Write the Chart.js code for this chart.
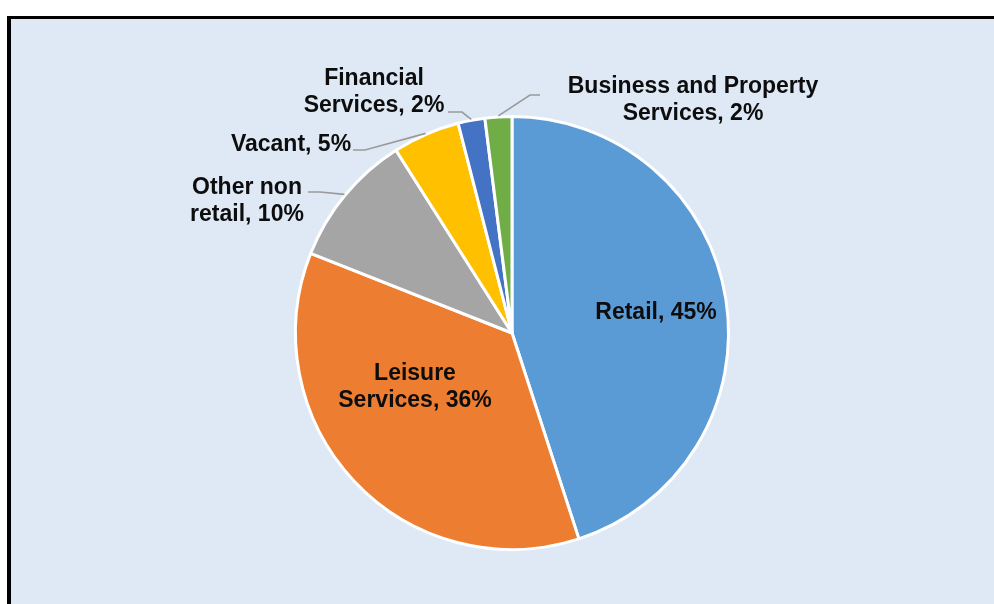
<!DOCTYPE html>
<html>
<head>
<meta charset="utf-8">
<script src="https://cdn.jsdelivr.net/npm/chart.js@4/dist/chart.umd.min.js"></script>
<style>
  html, body { margin: 0; padding: 0; background: #fff; overflow: hidden; }
  .frame {
    position: absolute; left: 7px; top: 16px; width: 1000px; height: 600px;
    border-top: 3px solid #000; border-left: 4px solid #000;
    background: #dee9f5;
  }
  #pie { position: absolute; left: 0; top: 0; }
</style>
</head>
<body>
<div class="frame"></div>
<canvas id="pie" width="994" height="604"></canvas>
<script>
// category names, already wrapped the way the labels show them
const categories = [
  ['Retail'],
  ['Leisure', 'Services'],
  ['Other non', 'retail'],
  ['Vacant'],
  ['Financial', 'Services'],
  ['Business and Property', 'Services']
]
const shares = [45, 36, 10, 5, 2, 2]
const colours = ['#5b9bd5', '#ed7d31', '#a5a5a5', '#ffc000', '#4472c4', '#70ad47']

// where each label sits, relative to the pie centre (first line centre),
// plus the point where its leader line leaves the text (null = inside the slice)
const labelPos = [
  { dx: 144, dy: -22, lead: null },
  { dx: -97, dy: 39, lead: null },
  { dx: -265, dy: -147, lead: { x: -204, y: -141, stub: 12 } },
  { dx: -221, dy: -190, lead: { x: -159, y: -183, stub: 12 } },
  { dx: -138, dy: -256, lead: { x: -64, y: -221, stub: 14 } },
  { dx: 181, dy: -248, lead: { x: 28, y: -238, stub: -10 } }
]

const sliceLabels = {
  id: 'sliceLabels',
  afterDatasetsDraw(chart) {
    const ctx = chart.ctx
    const arcs = chart.getDatasetMeta(0).data
    ctx.save()
    arcs.forEach(function (arc, i) {
      const cx = arc.x, cy = arc.y
      const p = labelPos[i]
      if (p.lead) {
        const mid = (arc.startAngle + arc.endAngle) / 2
        const ex = cx + Math.cos(mid) * (arc.outerRadius + 1)
        const ey = cy + Math.sin(mid) * (arc.outerRadius + 1)
        const sx = cx + p.lead.x, sy = cy + p.lead.y
        ctx.strokeStyle = '#9a9a9a'
        ctx.lineWidth = 1.6
        ctx.beginPath()
        ctx.moveTo(sx, sy)
        ctx.lineTo(sx + p.lead.stub, sy)
        ctx.lineTo(ex, ey)
        ctx.stroke()
      }
      const lines = categories[i].slice()
      lines[lines.length - 1] += ', ' + shares[i] + '%'
      ctx.fillStyle = '#0d0d0d'
      ctx.font = 'bold 23px "Liberation Sans", Arial, sans-serif'
      ctx.textAlign = 'center'
      ctx.textBaseline = 'alphabetic'
      lines.forEach(function (t, k) {
        ctx.fillText(t, cx + p.dx, cy + p.dy + 8 + k * 27)
      })
    })
    ctx.restore()
  }
}

new Chart(document.getElementById('pie').getContext('2d'), {
  type: 'pie',
  data: {
    labels: categories,
    datasets: [{
      data: shares,
      backgroundColor: colours,
      borderColor: '#ffffff',
      borderWidth: 3
    }]
  },
  options: {
    responsive: false,
    animation: false,
    layout: { padding: { left: 294, right: 264, top: 114, bottom: 52 } },
    plugins: {
      legend: { display: false },
      tooltip: { enabled: false }
    }
  },
  plugins: [sliceLabels]
})
</script>
</body>
</html>
